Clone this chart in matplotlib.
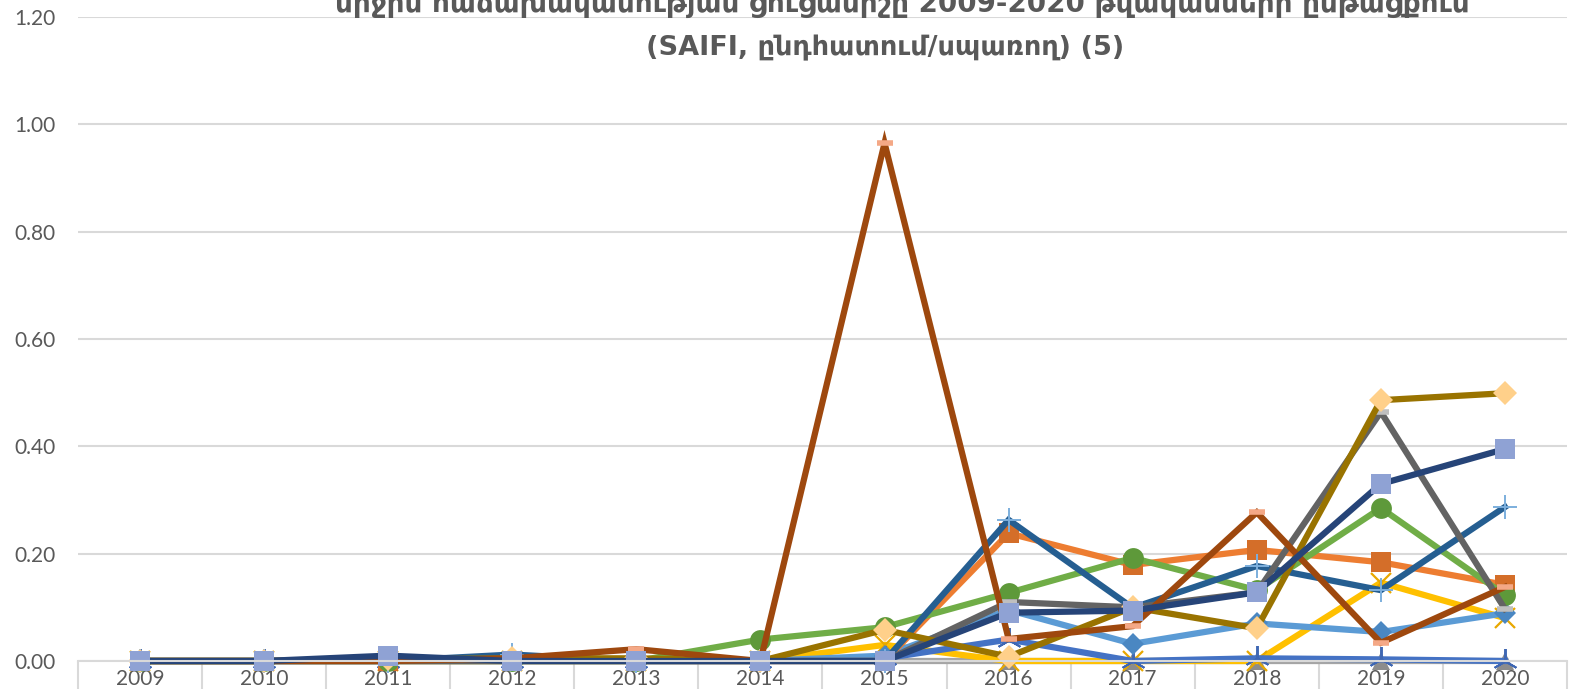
import matplotlib.pyplot as plt
from matplotlib.ticker import MultipleLocator, FixedLocator, FormatStrFormatter
import numpy as np

years = ['2009', '2010', '2011', '2012', '2013', '2014', '2015', '2016', '2017', '2018', '2019', '2020']

gray_tri   = [0, 0, 0, 0, 0, 0, 0, 0, 0, 0, 0, 0]
gold_x     = [0, 0, 0, 0, 0, 0, 0.03, 0, 0, 0, 0.146, 0.08]
blue_star  = [0, 0, 0, 0, 0, 0, 0.005, 0.04, 0, 0.005, 0.003, 0]
lblue_diam = [0, 0, 0, 0, 0, 0, 0.01, 0.095, 0.032, 0.07, 0.054, 0.089]
orange_sq  = [0, 0, 0, 0, 0, 0, 0, 0.238, 0.179, 0.207, 0.184, 0.142]
green_circ = [0, 0, 0, 0, 0, 0.04, 0.063, 0.127, 0.192, 0.132, 0.285, 0.123]
teal_plus  = [0, 0, 0, 0.012, 0, 0, 0, 0.263, 0.099, 0.177, 0.132, 0.287]
dgray_dash = [0, 0, 0, 0, 0, 0, 0, 0.11, 0.10, 0.128, 0.464, 0.097]
dgold_diam = [0, 0, 0.003, 0.005, 0.005, 0, 0.058, 0.008, 0.10, 0.061, 0.486, 0.499]
brown_dash = [0, 0, 0, 0.005, 0.022, 0, 0.965, 0.041, 0.065, 0.277, 0.034, 0.138]
navy_sq    = [0, 0, 0.01, 0, 0, 0, 0, 0.09, 0.094, 0.128, 0.33, 0.395]

title1 = 'միջին հաճախականության ցուցանիշը 2009-2020 թվականների ընթացքում'
title2 = '(SAIFI, ընդհատում/սպառող) (5)'

if __name__ == "__main__":
    fig = plt.figure(figsize=(15.69, 6.89), dpi=100)
    ax = fig.add_axes([78/1569, 28/689, 1489/1569, 644/689])
    x = np.arange(len(years))
    lw = 4.5

    # (values, line colour, marker, marker colour, size, edge width)
    series = [
        (gray_tri,   '#A5A5A5', '^', '#8C8C8C', 13, 0),
        (gold_x,     '#FFC000', 'x', '#E8A800', 14, 1.6),
        (blue_star,  '#4472C4', (3, 2, 0), '#3F67B3', 18, 1.4),
        (lblue_diam, '#5B9BD5', 'D', '#4A87C2', 11, 0),
        (orange_sq,  '#ED7D31', 's', '#D46E29', 14, 0),
        (green_circ, '#70AD47', 'o', '#5E993A', 15, 0),
        (teal_plus,  '#255E91', '+', '#7CAFDD', 17, 1.4),
        (dgray_dash, '#636363', '_', '#BFBFBF', 11, 4),
        (dgold_diam, '#997300', 'D', '#FFD08A', 12, 0),
        (brown_dash, '#9E480E', '_', '#F4A886', 11, 4),
        (navy_sq,    '#264478', 's', '#8FA2D4', 14, 0),
    ]
    for vals, c, m, mc, ms, mew in series:
        ax.plot(x, vals, color=c, lw=lw, marker=m, markersize=ms,
                markerfacecolor=mc, markeredgecolor=mc, markeredgewidth=mew,
                solid_joinstyle='miter', clip_on=False)

    ax.set_xlim(-0.5, len(years) - 0.5)
    ax.set_ylim(0, 1.2)
    ax.yaxis.set_major_locator(MultipleLocator(0.2))
    ax.yaxis.set_major_formatter(FormatStrFormatter('%.2f'))
    ax.set_xticks(x)
    ax.set_xticklabels(years)
    ax.xaxis.set_minor_locator(FixedLocator(np.arange(-0.5, len(years), 1)))

    ax.grid(axis='y', color='#D9D9D9', lw=1.5)
    ax.set_axisbelow(True)
    for s in ['top', 'right', 'left']:
        ax.spines[s].set_visible(False)
    ax.spines['bottom'].set_color('#D9D9D9')
    ax.spines['bottom'].set_linewidth(1.5)

    ax.tick_params(axis='y', length=0, pad=16, labelsize=15, labelcolor='#595959')
    ax.tick_params(axis='x', which='major', length=0, pad=6, labelsize=15, labelcolor='#595959')
    ax.tick_params(axis='x', which='minor', length=22, width=1.5, color='#D9D9D9')
    for lab in ax.get_xticklabels() + ax.get_yticklabels():
        lab.set_family(['Lato', 'DejaVu Sans'])

    fig.text(0.575, 1 - 12/689, title1, ha='center', va='baseline', fontsize=20,
             fontweight='bold', color='#595959', family=['DejaVu Sans'])
    fig.text(0.564, 1 - 55/689, title2, ha='center', va='baseline', fontsize=19.5,
             fontweight='bold', color='#595959', family=['DejaVu Sans'])

    plt.savefig('out.png', dpi=100)
